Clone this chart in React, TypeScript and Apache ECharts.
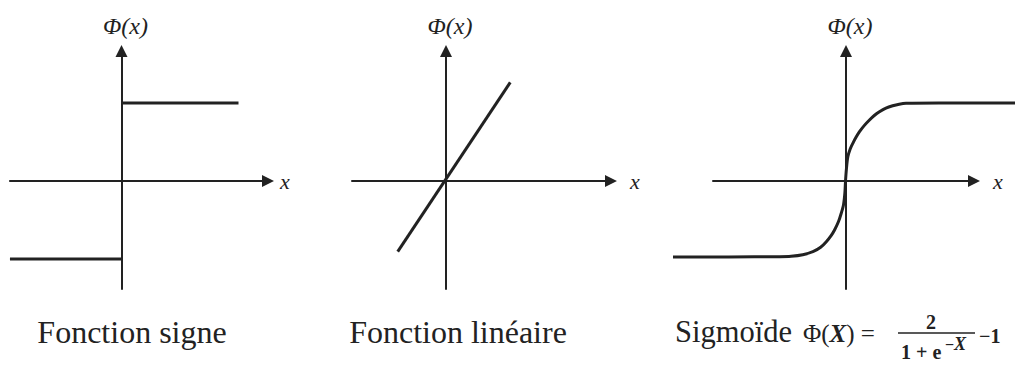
import React, { useEffect, useRef } from "react";
import * as echarts from "echarts";

// ---- data (in axis units) ----
const signLower: number[][] = [[-1.43, -1], [0, -1]];
const signUpper: number[][] = [[0, 1], [1.5, 1]];
const linearLine: number[][] = [[-0.619, -0.906], [0.824, 1.265]];
const sigmoidCurve: number[][] = [
  [-2.218, -0.974], [-1.5, -0.973], [-0.846, -0.97], [-0.7, -0.965], [-0.55, -0.945],
  [-0.419, -0.906], [-0.32, -0.85], [-0.247, -0.778], [-0.185, -0.7], [-0.141, -0.628],
  [-0.09, -0.52], [-0.055, -0.414], [-0.025, -0.3], [-0.008, -0.15], [0, 0],
  [0.012, 0.16], [0.03, 0.31], [0.06, 0.41], [0.094, 0.483], [0.135, 0.56],
  [0.18, 0.632], [0.24, 0.71], [0.308, 0.782], [0.37, 0.84], [0.436, 0.888],
  [0.52, 0.935], [0.606, 0.965], [0.69, 0.985], [0.778, 0.996], [1.2, 1.0], [2.179, 1.0],
];
const panelTitles: string[] = ["Fonction signe", "Fonction linéaire", "Sigmoïde"];
const yAxisName = "Φ(x)";
const xAxisName = "x";

// axis ranges (units)
const yRange: number[] = [-1.385, 1.667];
const xRanges: number[][] = [[-1.43, 1.878], [-1.205, 2.115], [-1.705, 1.641]];
const sigmoidCurveRange: number[] = [-2.218, 2.179];

// ---- layout ----
const UNIT = 78;
const Y_ZERO = 181;
const originsX: number[] = [121.5, 446, 846];
const xNameGaps: number[] = [12, 19, 19];
const INK = "#222222";
const SERIF = "'Liberation Serif', 'Times New Roman', serif";

function gridFor(originX: number, xr: number[]) {
  return {
    left: originX + xr[0] * UNIT,
    width: (xr[1] - xr[0]) * UNIT,
    top: Y_ZERO - yRange[1] * UNIT,
    height: (yRange[1] - yRange[0]) * UNIT,
    containLabel: false,
  };
}

export default function App() {
  const ref = useRef<HTMLDivElement>(null);
  useEffect(() => {
    if (!ref.current) return;
    const chart = echarts.init(ref.current, undefined, { renderer: "svg" });

    const grids = [
      gridFor(originsX[0], xRanges[0]),
      gridFor(originsX[1], xRanges[1]),
      gridFor(originsX[2], xRanges[2]),
      gridFor(originsX[2], sigmoidCurveRange),
    ];

    const axisLine = {
      show: true,
      onZero: true,
      symbol: ["none", "triangle"],
      symbolSize: [12, 12],
      lineStyle: { color: INK, width: 2 },
    };

    const xAxes: any[] = [0, 1, 2].map((i) => ({
      type: "value",
      gridIndex: i,
      min: xRanges[i][0],
      max: xRanges[i][1],
      axisLine,
      axisTick: { show: false },
      axisLabel: { show: false },
      splitLine: { show: false },
      name: xAxisName,
      nameLocation: "end",
      nameGap: xNameGaps[i],
      nameTextStyle: { fontFamily: SERIF, fontStyle: "italic", fontSize: 22, color: INK },
    }));
    xAxes.push({
      type: "value", gridIndex: 3, show: false,
      min: sigmoidCurveRange[0], max: sigmoidCurveRange[1],
    });

    const yAxes: any[] = [0, 1, 2].map((i) => ({
      type: "value",
      gridIndex: i,
      min: yRange[0],
      max: yRange[1],
      axisLine,
      axisTick: { show: false },
      axisLabel: { show: false },
      splitLine: { show: false },
      name: yAxisName,
      nameLocation: "end",
      nameGap: 13,
      nameTextStyle: {
        fontFamily: SERIF, fontStyle: "italic", fontSize: 24, color: INK,
        padding: [0, 0, 0, 8],
      },
    }));
    yAxes.push({ type: "value", gridIndex: 3, show: false, min: yRange[0], max: yRange[1] });

    const lineSeries = (data: number[][], idx: number, extra: any = {}) => ({
      type: "line",
      xAxisIndex: idx,
      yAxisIndex: idx,
      data,
      showSymbol: false,
      symbol: "none",
      lineStyle: { color: INK, width: 3 },
      silent: true,
      ...extra,
    });

    const fs = 20;
    const titleStyle = { fontFamily: SERIF, fontSize: 32, fill: INK, verticalAlign: "middle" };
    chart.setOption({
      animation: false,
      backgroundColor: "#ffffff",
      grid: grids,
      xAxis: xAxes,
      yAxis: yAxes,
      series: [
        lineSeries(signLower, 0),
        lineSeries(signUpper, 0),
        lineSeries(linearLine, 1),
        lineSeries(sigmoidCurve, 3, { smooth: 0.3 }),
      ],
      graphic: [
        { type: "text", x: 132, y: 332, style: { ...titleStyle, text: panelTitles[0], align: "center" } },
        { type: "text", x: 458, y: 332, style: { ...titleStyle, text: panelTitles[1], align: "center" } },
        { type: "text", x: 675, y: 332, style: { ...titleStyle, fontSize: 30.5, text: panelTitles[2], align: "left" } },
        {
          type: "text", x: 803, y: 333,
          style: {
            text: "{n|Φ(}{bi|X}{n|) =}",
            fill: INK, align: "left", verticalAlign: "middle",
            rich: {
              n: { fontFamily: SERIF, fontSize: 25, fill: INK },
              bi: { fontFamily: SERIF, fontSize: 25, fontStyle: "italic", fontWeight: "bold", fill: INK },
            },
          },
        },
        {
          type: "text", x: 931, y: 322,
          style: { text: "2", fontFamily: SERIF, fontSize: fs, fontWeight: "bold", fill: INK, align: "center", verticalAlign: "middle" },
        },
        {
          type: "line",
          shape: { x1: 898, y1: 333, x2: 975, y2: 333 },
          style: { stroke: INK, lineWidth: 1.5 },
        },
        {
          type: "text", x: 901, y: 352,
          style: { text: "1 + e", fontFamily: SERIF, fontSize: fs, fontWeight: "bold", fill: INK, align: "left", verticalAlign: "middle", lineHeight: 20 },
        },
        {
          type: "text", x: 945, y: 344,
          style: {
            text: "{m|−}{x|X}",
            align: "left", verticalAlign: "middle",
            rich: {
              m: { fontFamily: SERIF, fontSize: 16, fontWeight: "bold", fill: INK },
              x: { fontFamily: SERIF, fontSize: 18, fontStyle: "italic", fontWeight: "bold", fill: INK },
            },
          },
        },
        {
          type: "text", x: 979, y: 336,
          style: { text: "−1", fontFamily: SERIF, fontSize: fs, fontWeight: "bold", fill: INK, align: "left", verticalAlign: "middle" },
        },
      ],
    });
    return () => chart.dispose();
  }, []);

  return (
    <div
      ref={ref}
      style={{ position: "fixed", left: 0, top: 0, width: 1015, height: 365, background: "#fff" }}
    />
  );
}
